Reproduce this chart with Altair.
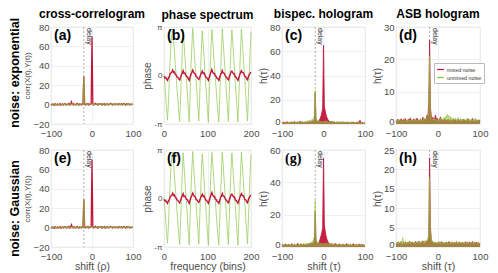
import altair as alt
import pandas as pd

FONT = "Liberation Sans"
RED = "#c3143b"
GREEN = "#8cc63f"
LGREEN = "#9ccf62"
TXT = "#4d4d4d"

LAGS = list(range(-100, 101, 2))
BINS = list(range(0, 201, 2))
DELAY = -20

# ---------- cross-correlogram (a, e) ----------
corr_red = [
    0.3, -0.4, 0.5, 0.2, -0.6, 0.8, 0.1, -0.3, 0.6, -0.2,
    0.4, 1.0, -0.5, 0.3, 0.7, -0.2, 0.5, 0.9, 0.4, -0.3,
    0.6, 0.2, 1.2, -0.4, 0.3, 2.9, 0.5, -0.2, 0.8, 0.1,
    -0.3, 0.6, 1.1, 0.2, -0.5, 0.7, 0.3, -0.2, 0.9, 0.4,
    29, 0.5, -0.3, 0.8, 0.2, 1.0, -0.4, 0.6, 0.3, 0.9,
    70, 0.7, -0.2, 0.5, 1.2, 0.1, 0.6, -0.4, 0.8, 0.3,
    0.5, 1.0, -0.3, 0.6, 0.2, 0.9, -0.5, 0.4, 1.1, 0.2,
    -0.2, 0.7, 0.3, 1.3, 0.5, -0.4, 0.8, 0.2, 0.6, -0.1,
    0.9, 0.4, -0.3, 1.0, 0.5, 0.2, 0.8, -0.2, 0.6, 1.1,
    0.3, -0.4, 0.7, 0.2, 0.9, 0.5, -0.3, 0.6, 0.1, 0.4,
    0.2]
corr_green = [
    -0.2, 0.5, 0.1, -0.4, 0.6, 0.2, -0.3, 0.4, 0.8, -0.1,
    0.3, -0.5, 0.6, 0.1, -0.2, 0.7, 0.3, -0.4, 0.5, 0.2,
    -0.3, 0.8, 0.1, 0.4, -0.2, 0.6, 0.9, -0.3, 0.2, 0.5,
    0.7, -0.1, 0.4, -0.4, 1.0, 0.3, -0.2, 0.6, 0.2, 0.8,
    29, 0.6, 0.1, -0.3, 0.7, 0.4, -0.2, 0.5, 0.9, 0.2,
    0.4, -0.3, 0.8, 0.2, -0.1, 0.6, 0.3, 0.9, -0.4, 0.5,
    0.1, 0.7, 0.3, -0.2, 0.8, 0.4, -0.3, 0.6, 0.2, 1.0,
    0.3, -0.4, 0.5, 0.2, 0.7, -0.1, 0.4, 0.8, -0.2, 0.3,
    0.6, 0.1, -0.3, 0.5, 0.9, 0.2, -0.4, 0.6, 0.3, -0.1,
    0.7, 0.2, 0.5, -0.3, 0.4, 0.8, 0.1, -0.2, 0.6, 0.3,
    0.1]

# ---------- phase spectrum (b, f), in units of pi ----------
phase_green = [
    0.02, -0.2, -0.45, -0.7, -0.92, -0.6, -0.15, 0.3, 0.65, 0.85,
    0.96, 0.72, 0.48, 0.22, -0.02, -0.28, -0.52, -0.75, -0.95, -0.5,
    0.0, 0.5, 0.94, 0.68, 0.4, 0.12, -0.15, -0.42, -0.7, -0.96,
    -0.4, 0.15, 0.6, 0.97, 0.7, 0.42, 0.15, -0.14, -0.4, -0.68,
    -0.94, -0.45, 0.08, 0.55, 0.92, 0.66, 0.4, 0.1, -0.18, -0.45,
    -0.72, -0.97, -0.42, 0.1, 0.58, 0.95, 0.72, 0.46, 0.2, -0.05,
    -0.3, -0.55, -0.78, -0.96, -0.48, 0.02, 0.5, 0.96, 0.7, 0.42,
    0.14, -0.14, -0.42, -0.7, -0.95, -0.4, 0.12, 0.58, 0.94, 0.68,
    0.4, 0.12, -0.16, -0.44, -0.72, -0.96, -0.44, 0.06, 0.55, 0.96,
    0.7, 0.42, 0.15, -0.12, -0.4, -0.68, -0.94, -0.45, 0.05, 0.52,
    0.9]
phase_red = [
    -0.02, -0.05, -0.04, -0.08, -0.1, -0.05, -0.03, 0.03, 0.05, 0.07,
    0.11, 0.06, 0.07, 0.02, 0.01, -0.03, -0.04, -0.07, -0.09, -0.04,
    0.02, 0.05, 0.1, 0.04, 0.05, 0.01, -0.02, -0.03, -0.07, -0.1,
    -0.03, 0.02, 0.06, 0.11, 0.07, 0.04, 0.03, -0.02, -0.03, -0.06,
    -0.08, -0.04, 0.01, 0.05, 0.09, 0.04, 0.05, 0.01, -0.03, -0.04,
    -0.07, -0.1, -0.04, 0.02, 0.07, 0.12, 0.07, 0.04, 0.04, -0.01,
    -0.02, -0.06, -0.07, -0.1, -0.04, 0.02, 0.05, 0.1, 0.05, 0.05,
    0.01, -0.02, -0.04, -0.07, -0.09, -0.03, 0.02, 0.07, 0.09, 0.06,
    0.03, 0.03, -0.03, -0.04, -0.07, -0.1, -0.04, 0.01, 0.06, 0.1,
    0.06, 0.06, 0.02, -0.02, -0.03, -0.07, -0.09, -0.02, 0.02, 0.05,
    0.07]

# ---------- bispectral hologram, exponential (c) ----------
bis_exp_red = [
    1.2, 0.6, 1.8, 0.9, 1.4, 0.5, 2.0, 1.1, 0.7, 1.5,
    0.8, 1.9, 1.2, 0.6, 1.6, 2.2, 0.9, 1.3, 0.7, 1.8,
    1.0, 1.5, 2.4, 0.8, 1.3, 1.9, 0.7, 1.2, 1.6, 0.9,
    1.4, 2.1, 1.0, 1.7, 2.5, 1.3, 2.0, 2.8, 1.9, 3.5,
    26, 3.0, 2.2, 1.8, 2.6, 3.2, 4.5, 6.5, 9.5, 13,
    65, 15, 11, 8, 5.5, 4, 3, 2.2, 1.8, 2.4,
    1.5, 2.0, 1.2, 1.7, 0.9, 1.4, 1.1, 1.8, 0.8, 1.3,
    1.6, 0.9, 1.2, 1.9, 0.7, 1.1, 1.5, 0.8, 1.3, 1.7,
    0.9, 1.4, 1.1, 0.6, 1.5, 1.0, 1.8, 0.7, 1.2, 0.9,
    1.3, 1.7, 0.8, 2.2, 3.0, 1.5, 0.9, 1.2, 0.7, 1.0,
    0.8]
bis_exp_green = [
    0.8, 1.4, 0.6, 1.1, 1.7, 0.9, 1.3, 0.5, 1.6, 1.0,
    1.5, 0.7, 1.2, 1.9, 0.8, 1.4, 1.0, 2.0, 1.2, 0.9,
    1.6, 1.1, 0.8, 1.8, 1.3, 2.2, 1.0, 1.5, 2.4, 1.7,
    2.1, 2.8, 1.9, 3.2, 2.5, 3.6, 3.0, 4.2, 4.8, 6.5,
    28, 6.0, 3.8, 2.9, 2.2, 2.6, 1.8, 2.4, 1.5, 2.0,
    1.6, 2.3, 1.4, 2.8, 1.9, 2.2, 1.3, 1.8, 2.6, 1.5,
    2.0, 1.2, 1.7, 2.4, 1.1, 1.6, 2.1, 1.0, 1.5, 1.9,
    1.3, 0.9, 1.6, 1.2, 2.0, 1.1, 0.8, 1.4, 1.8, 1.0,
    1.2, 1.6, 0.7, 1.3, 1.9, 0.9, 1.4, 1.1, 0.6, 1.5,
    1.0, 1.3, 0.8, 1.7, 1.1, 0.9, 1.4, 0.7, 1.2, 0.8,
    1.0]

# ---------- ASB hologram, exponential (d) ----------
asb_exp_red = [
    1.0, 0.5, 1.5, 0.8, 1.3, 0.6, 1.6, 1.1, 0.7, 1.4,
    0.9, 1.7, 0.8, 1.2, 0.5, 1.5, 1.0, 1.9, 0.8, 1.3,
    0.7, 1.6, 1.1, 0.6, 1.4, 1.8, 0.9, 1.2, 0.8, 1.5,
    1.0, 1.4, 2.1, 0.9, 1.6, 1.2, 1.8, 2.7, 2.0, 6.8,
    26, 5.0, 2.5, 1.4, 2.1, 1.1, 1.6, 2.8, 1.3, 1.8,
    1.2, 0.9, 1.5, 2.2, 1.0, 1.4, 0.8, 1.2, 1.7, 0.9,
    1.3, 0.7, 1.5, 1.0, 0.8, 1.4, 1.1, 0.6, 1.2, 1.6,
    0.9, 1.3, 0.7, 1.1, 1.5, 0.8, 1.0, 1.4, 0.6, 1.1,
    1.5, 0.9, 1.2, 0.7, 1.3, 1.0, 1.6, 0.8, 1.1, 0.6,
    1.2, 1.7, 0.9, 1.0, 0.7, 1.4, 1.0, 1.2, 0.8, 1.3,
    0.9]
asb_exp_green = [
    0.7, 1.1, 0.8, 1.4, 1.0, 1.2, 0.6, 1.0, 1.3, 0.8,
    1.1, 0.7, 1.3, 1.0, 1.5, 0.8, 1.2, 0.9, 1.4, 1.0,
    1.3, 0.9, 1.1, 1.6, 1.0, 1.2, 0.8, 1.4, 1.0, 1.7,
    1.2, 1.0, 1.5, 1.1, 1.8, 1.3, 1.6, 2.1, 2.4, 4.5,
    21, 3.6, 2.0, 1.7, 1.3, 1.8, 1.2, 1.6, 1.0, 1.4,
    1.1, 1.5, 1.0, 1.8, 1.3, 1.1, 1.6, 2.0, 1.4, 2.4,
    2.0, 3.0, 2.2, 2.6, 1.7, 2.3, 1.5, 1.9, 1.3, 1.6,
    1.2, 1.8, 1.4, 1.0, 2.1, 1.5, 1.1, 1.7, 1.3, 0.9,
    1.4, 1.1, 1.6, 1.0, 1.3, 1.9, 1.2, 0.9, 1.5, 1.1,
    1.3, 1.0, 1.6, 1.2, 1.8, 1.0, 1.4, 0.9, 1.2, 1.0,
    1.0]

# ---------- bispectral hologram, Gaussian (g) ----------
bis_gau_red = [
    1.0, 1.6, 0.7, 1.3, 2.0, 0.9, 1.4, 0.6, 1.8, 1.1,
    0.8, 1.5, 2.1, 1.0, 0.7, 1.7, 1.2, 0.9, 1.6, 2.3,
    1.1, 0.8, 1.4, 1.9, 0.9, 1.3, 2.0, 1.0, 1.5, 0.8,
    1.7, 1.2, 2.2, 1.4, 1.9, 2.6, 1.6, 2.4, 3.0, 4.0,
    22, 3.6, 2.4, 1.9, 2.8, 3.4, 5.0, 7.0, 9.0, 12,
    55, 14, 10, 7, 5, 3.6, 2.6, 2.0, 1.6, 2.2,
    1.4, 1.9, 1.1, 1.6, 2.3, 1.2, 1.7, 1.0, 1.5, 2.0,
    1.2, 0.8, 1.6, 1.1, 1.8, 1.3, 0.9, 1.5, 2.1, 1.0,
    1.4, 0.9, 1.7, 1.2, 0.8, 1.6, 2.0, 1.1, 1.4, 0.9,
    1.6, 1.0, 1.3, 1.9, 0.8, 1.5, 1.1, 1.7, 0.9, 1.2,
    1.0]
bis_gau_green = [
    0.9, 1.3, 0.7, 1.6, 1.0, 1.4, 0.8, 1.9, 1.1, 0.6,
    1.5, 1.0, 1.7, 0.8, 1.3, 2.0, 1.1, 1.5, 0.9, 1.4,
    1.8, 1.2, 2.5, 1.0, 1.6, 1.3, 2.1, 1.5, 1.8, 2.4,
    1.6, 2.2, 1.9, 2.7, 2.1, 3.0, 2.6, 3.8, 4.6, 7.0,
    29, 6.5, 4.0, 3.0, 2.4, 2.8, 2.0, 2.5, 1.6, 2.2,
    1.8, 2.4, 1.5, 2.0, 2.7, 1.6, 2.2, 1.4, 1.9, 1.3,
    2.1, 1.4, 1.8, 1.1, 1.6, 2.2, 1.3, 1.7, 1.0, 1.5,
    1.9, 1.2, 1.6, 0.9, 1.4, 1.8, 1.1, 1.5, 0.8, 1.3,
    1.7, 1.0, 1.4, 0.9, 1.6, 1.2, 0.8, 1.5, 1.1, 1.8,
    1.2, 0.9, 1.4, 1.0, 1.7, 1.3, 0.8, 1.2, 1.5, 1.0,
    1.1]

# ---------- ASB hologram, Gaussian (h) ----------
asb_gau_red = [
    1.0, 0.5, 1.3, 0.8, 1.1, 0.4, 1.4, 0.9, 0.6, 1.2,
    0.7, 1.3, 0.9, 0.5, 1.2, 0.8, 1.5, 0.6, 1.0, 1.3,
    0.8, 1.1, 0.5, 1.4, 0.9, 1.2, 0.7, 1.5, 1.0, 0.8,
    1.3, 0.9, 1.6, 1.1, 0.8, 1.4, 1.2, 1.7, 1.5, 3.0,
    23, 5.2, 2.0, 1.4, 0.9, 1.3, 0.8, 1.2, 0.7, 1.1,
    0.9, 1.3, 0.6, 1.0, 1.4, 0.8, 1.2, 0.5, 1.1, 0.9,
    1.3, 0.7, 1.0, 1.4, 0.6, 1.1, 0.9, 1.3, 0.5, 1.0,
    1.2, 0.8, 1.4, 0.6, 1.1, 0.9, 1.3, 0.7, 1.0, 1.2,
    0.6, 1.1, 0.9, 1.4, 0.8, 1.2, 0.5, 1.0, 1.3, 0.7,
    1.1, 1.4, 0.8, 1.0, 1.3, 0.6, 1.2, 0.9, 1.1, 0.7,
    1.0]
asb_gau_green = [
    0.7, 1.2, 0.9, 1.5, 0.8, 1.1, 1.4, 0.6, 2.4, 1.3,
    0.9, 1.6, 1.0, 1.2, 0.8, 1.3, 1.0, 1.5, 0.7, 1.1,
    1.4, 0.9, 1.2, 0.8, 1.5, 1.1, 0.9, 1.3, 1.6, 1.0,
    1.2, 1.5, 1.0, 1.3, 1.7, 1.1, 1.4, 1.8, 2.2, 3.6,
    18, 4.0, 2.2, 1.5, 1.1, 1.4, 0.9, 1.3, 1.0, 1.2,
    0.8, 1.1, 1.4, 0.9, 1.2, 0.7, 1.0, 1.3, 0.8, 1.1,
    0.9, 1.2, 0.7, 1.1, 1.4, 0.8, 1.0, 1.2, 0.9, 1.3,
    1.0, 0.7, 1.2, 0.9, 1.1, 1.4, 0.8, 1.0, 1.2, 0.9,
    1.3, 0.8, 1.0, 1.2, 0.7, 1.1, 1.4, 0.9, 1.0, 0.8,
    1.2, 0.9, 1.1, 0.7, 1.3, 1.0, 0.8, 1.2, 0.9, 1.1,
    0.8]

COL_TITLES = ["cross-correlogram", "phase spectrum", "bispec. hologram", "ASB hologram"]
ROW_TITLES = ["noise: exponential", "noise: Gaussian"]
SERIES = ["mixed noise", "unmixed noise"]
WIDTHS = [82, 87, 83, 84]
H = 97


def frame(xs, ys, name):
    return pd.DataFrame({"x": xs, "y": ys, "s": name})


def panel(kind, red, green, label, ydom, yvals, ytitle, ytsize, xtitle, width,
          title=None, legend=False, label_font=FONT):
    if kind == "phase":
        xs, xdom, xvals = BINS, [0, 200], [0, 100, 200]
    else:
        xs, xdom, xvals = LAGS, [-100, 100], [-100, 0, 100]
    xaxis = alt.Axis(values=xvals, title=xtitle, titleFontSize=10.5, titlePadding=1,
                     labelFlush=False, labelPadding=4)
    if kind == "phase":
        yaxis = alt.Axis(values=yvals, title=ytitle, titleFontSize=ytsize,
                         labelExpr="datum.value == 1 ? 'π' : datum.value == -1 ? '-π' : '0'",
                         labelFontSize=8, titlePadding=1)
    elif kind == "holo":
        yaxis = alt.Axis(values=yvals, title=ytitle, titleFontSize=ytsize, titlePadding=1,
                         labelBaseline={"condition": {"test": "datum.value == 0",
                                                      "value": "alphabetic"},
                                        "value": "middle"})
    else:
        yaxis = alt.Axis(values=yvals, title=ytitle, titleFontSize=ytsize, titlePadding=1)
    X = alt.X("x:Q", scale=alt.Scale(domain=xdom, nice=False, zero=False), axis=xaxis)
    Y = alt.Y("y:Q", scale=alt.Scale(domain=ydom, nice=False, zero=False), axis=yaxis)
    dr = frame(xs, red, SERIES[0])
    dg = frame(xs, green, SERIES[1])
    layers = []
    if kind == "corr":
        layers.append(alt.Chart(dr).mark_line(color=RED, strokeWidth=1.3).encode(x=X, y=Y))
        layers.append(alt.Chart(dg).mark_line(color=GREEN, strokeWidth=1.3, opacity=0.65).encode(x=X, y=Y))
    elif kind == "phase":
        layers.append(alt.Chart(dg).mark_line(color=LGREEN, strokeWidth=0.9, opacity=0.9).encode(x=X, y=Y))
        layers.append(alt.Chart(dr).mark_line(color=RED, strokeWidth=1.4).encode(x=X, y=Y))
    else:
        if legend:
            col = alt.Color("s:N", scale=alt.Scale(domain=SERIES, range=[RED, GREEN]),
                            legend=alt.Legend(orient="none", legendX=38, legendY=36, title=None,
                                              labelFontSize=5.3, labelFont=FONT, labelColor="#333",
                                              symbolType="stroke", symbolSize=45, symbolStrokeWidth=1.3,
                                              symbolOpacity=1, padding=2, rowPadding=0, labelOffset=2,
                                              fillColor="white", strokeColor="#bbbbbb"))
            red_line = alt.Chart(dr).mark_line(strokeWidth=0.8).encode(x=X, y=Y, color=col)
            green_line = alt.Chart(dg).mark_line(strokeWidth=0.8, opacity=0.7).encode(x=X, y=Y, color=col)
        else:
            red_line = alt.Chart(dr).mark_line(color=RED, strokeWidth=0.8).encode(x=X, y=Y)
            green_line = alt.Chart(dg).mark_line(color=GREEN, strokeWidth=0.8, opacity=0.7).encode(x=X, y=Y)
        layers.append(alt.Chart(dr).mark_area(color=RED, opacity=0.95).encode(x=X, y=Y))
        layers.append(red_line)
        layers.append(alt.Chart(dg).mark_area(color=GREEN, opacity=0.6).encode(x=X, y=Y))
        layers.append(green_line)
    if kind != "phase":
        rule_df = pd.DataFrame({"x": [DELAY], "y": [ydom[1]]})
        layers.insert(0, alt.Chart(rule_df).mark_rule(color="#9a9a9a", strokeDash=[2, 2],
                                                     strokeWidth=0.8).encode(x=X))
        layers.append(alt.Chart(rule_df).mark_text(text="delay", angle=90, align="left",
                                                   baseline="middle", dx=1, dy=-5, fontSize=7,
                                                   font=FONT, color="#333").encode(x=X, y=Y))
    lab_df = pd.DataFrame({"x": [xdom[0]], "y": [ydom[1]]})
    layers.append(alt.Chart(lab_df).mark_text(text=label, align="left", baseline="top", dx=3, dy=2,
                                              fontSize=14, fontWeight="bold", font=label_font,
                                              color="black").encode(x=X, y=Y))
    props = dict(width=width, height=H)
    if title:
        props["title"] = alt.TitleParams(title, anchor="middle", frame="group", fontSize=12,
                                         fontWeight="bold", font=FONT, offset=1)
    return alt.layer(*layers).properties(**props)


def row(r):
    top = r == 0
    xt = [None, None, None, None] if top else ["shift (ρ)", "frequency (bins)", "shift (τ)", "shift (τ)"]
    ct = COL_TITLES if top else [None] * 4
    labels = ["(a)", "(b)", "(c)", "(d)"] if top else ["(e)", "(f)", "(g)", "(h)"]
    if top:
        p3 = panel("holo", bis_exp_red, bis_exp_green, labels[2], [0, 80], [0, 20, 40, 60, 80],
                   "h(τ)", 10, xt[2], WIDTHS[2], ct[2])
        p4 = panel("holo", asb_exp_red, asb_exp_green, labels[3], [0, 30], [0, 10, 20, 30],
                   "h(τ)", 10, xt[3], WIDTHS[3], ct[3], legend=True)
    else:
        p3 = panel("holo", bis_gau_red, bis_gau_green, labels[2], [0, 60], [0, 20, 40, 60],
                   "h(τ)", 10, xt[2], WIDTHS[2], ct[2], label_font="Liberation Serif")
        p4 = panel("holo", asb_gau_red, asb_gau_green, labels[3], [0, 25], [0, 5, 10, 15, 20, 25],
                   "h(τ)", 10, xt[3], WIDTHS[3], ct[3])
    p1 = panel("corr", corr_red, corr_green, labels[0], [-20, 80], [-20, 0, 20, 40, 60, 80],
               "corr(X(t),Y(t))", 8, xt[0], WIDTHS[0], ct[0])
    p2 = panel("phase", phase_red, phase_green, labels[1], [-1, 1], [-1, 0, 1],
               "phase", 10, xt[1], WIDTHS[1], ct[1])
    return alt.hconcat(p1, p2, p3, p4, spacing=31, bounds="flush",
                       title=alt.TitleParams(ROW_TITLES[r], orient="left", anchor="middle",
                                             fontSize=12.5, fontWeight="bold", font=FONT,
                                             offset=2)
                       ).resolve_scale(color="independent").resolve_legend(color="independent")


chart = alt.vconcat(row(0), row(1), spacing=6).resolve_scale(
    color="independent").resolve_legend(color="independent").properties(
    padding={"left": 0, "top": -1, "right": 0, "bottom": 0}
).configure_axis(
    labelFont=FONT, labelFontSize=9.5, labelColor=TXT, ticks=False, domain=False,
    gridColor="#ececec", gridWidth=0.8, labelPadding=2,
    titleFont=FONT, titleFontWeight="normal", titleColor=TXT
).configure_view(stroke="#d6d6d6", strokeWidth=0.8)

chart.save("out.html", embed_options={"renderer": "svg", "actions": False})
